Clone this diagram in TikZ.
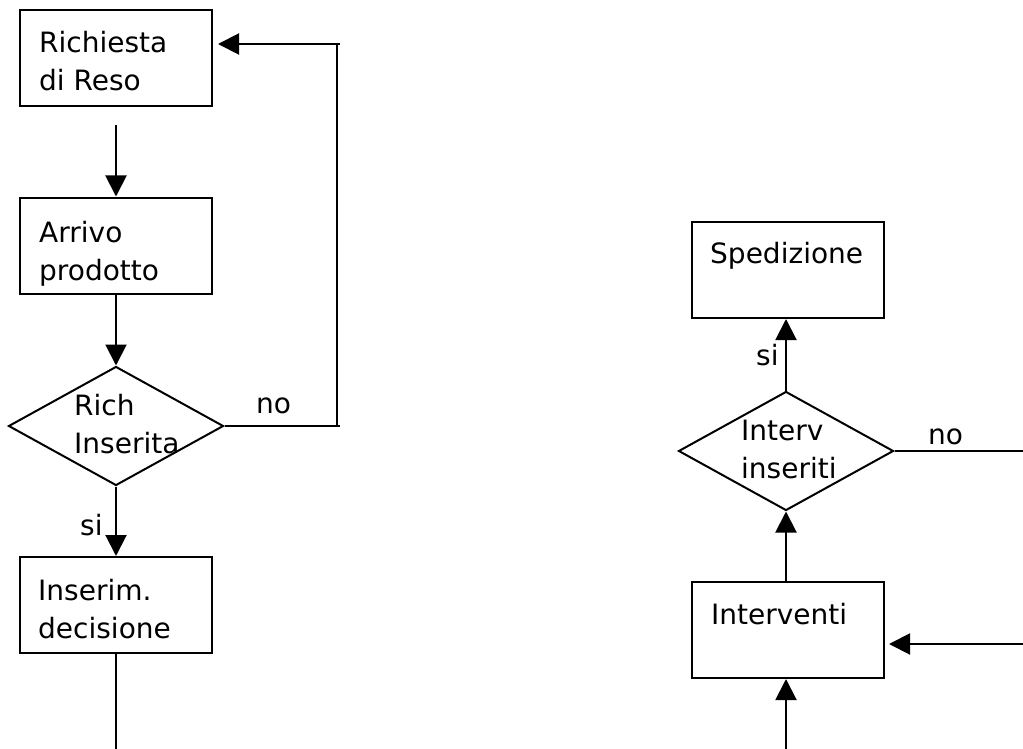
\documentclass[tikz,border=0pt]{standalone}
\usepackage{fontspec}
\setmainfont{DejaVu Sans}
\usetikzlibrary{arrows.meta,shapes.geometric}

\tikzset{
  lw/.style={line width=2pt},
  procbox/.style={draw, lw, minimum width=192pt, minimum height=96pt, inner sep=0pt},
  decbox/.style={draw, lw, diamond, minimum width=215pt, minimum height=119pt, inner sep=0pt},
  flow/.style={lw},
  arr/.style={lw, -{Triangle[length=21pt,width=21pt]}},
  txt/.style={anchor=base west, inner sep=0pt, font=\fontsize{28}{38}\selectfont},
}
\newcommand{\twolines}[2]{\begin{tabular}[t]{@{}l@{}}#1\\#2\end{tabular}}

\begin{document}
\begin{tikzpicture}[x=1pt,y=-1pt]
  \useasboundingbox (0,0) rectangle (1023,749);

  % left column: return request flow
  \node[procbox] (req) at (116,58) {};
  \node[procbox] (arr) at (116,245.5) {};
  \node[decbox]  (chk) at (116,426) {};
  \node[procbox] (dec) at (116,605) {};

  \node[txt] (reqT) at (39,53)  {\twolines{Richiesta}{di Reso}};
  \node[txt] (arrT) at (39,242) {\twolines{Arrivo}{prodotto}};
  \node[txt] (chkT) at (74,415) {\twolines{Rich}{Inserita}};
  \node[txt] (decT) at (38,600) {\twolines{Inserim.}{decisione}};
  \node[txt] (noL)  at (256,413) {no};
  \node[txt] (siL)  at (80,535)  {si};

  \coordinate (reqOut) at (116,125);
  \coordinate (loopA)  at (340,426);
  \coordinate (loopB)  at (337,426);
  \coordinate (loopC)  at (337,44);
  \coordinate (loopD)  at (340,44);
  \coordinate (reqIn)  at (218,44);
  \coordinate (leftEnd) at (116,749);

  \draw[arr]  (reqOut) -- (arr.north);
  \draw[arr]  (arr.south) -- (chk.north);
  \draw[flow] (chk.east) -- (loopA);
  \draw[flow] (loopB) -- (loopC);
  \draw[arr]  (loopD) -- (reqIn);
  \draw[arr]  (chk.south) -- (dec.north);
  \draw[flow] (dec.south) -- (leftEnd);

  % right column: interventions and shipping
  \node[procbox] (shp) at (788,270) {};
  \node[decbox]  (ins) at (786,451) {};
  \node[procbox] (itv) at (788,630) {};

  \node[txt] (shpT) at (710,263) {Spedizione};
  \node[txt] (itvT) at (711,624) {Interventi};
  \node[txt] (insT) at (741,440) {\twolines{Interv}{inseriti}};
  \node[txt] (noR)  at (928,444) {no};
  \node[txt] (siR)  at (756,365) {si};

  \coordinate (rightNo) at (1023,451);
  \coordinate (itvSrc)  at (1023,644);
  \coordinate (itvIn)   at (889,644);
  \coordinate (rightEnd) at (786,749);

  \draw[arr]  (ins.north) -- (ins.north |- shp.south);
  \draw[flow] (ins.east) -- (rightNo);
  \draw[arr]  (ins.south |- itv.north) -- (ins.south);
  \draw[arr]  (itvSrc) -- (itvIn);
  \draw[arr]  (rightEnd) -- (rightEnd |- itv.south);
\end{tikzpicture}
\end{document}
